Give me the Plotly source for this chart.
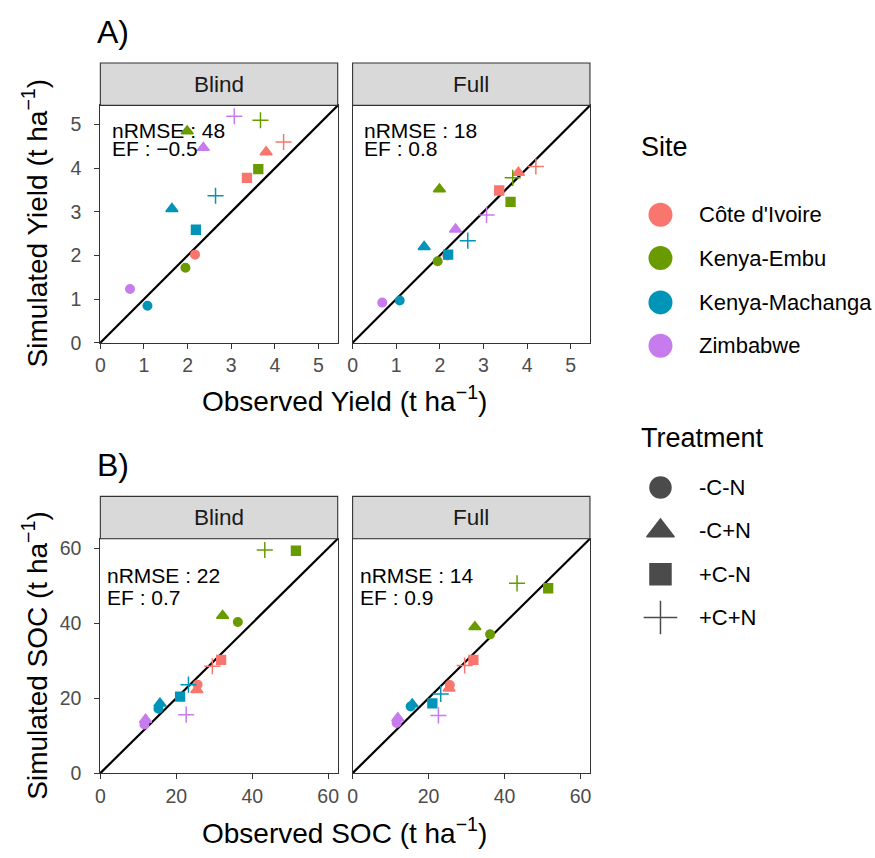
import plotly.graph_objects as go

W, H = 875, 858
FONT = "Liberation Sans, Arial, sans-serif"

# ---------------- data ----------------
sites = ["Côte d'Ivoire", "Kenya-Embu", "Kenya-Machanga", "Zimbabwe"]
treatments = ["-C-N", "-C+N", "+C-N", "+C+N"]

pt_site = (["Côte d'Ivoire"] * 4 + ["Kenya-Embu"] * 4 +
           ["Kenya-Machanga"] * 4 + ["Zimbabwe"] * 3)
pt_trt = ["-C-N", "-C+N", "+C-N", "+C+N"] * 3 + ["-C-N", "-C+N", "+C+N"]

obs_yield = [2.17, 3.80, 3.36, 4.20, 1.95, 1.99, 3.62, 3.67, 1.08, 1.64, 2.19, 2.64, 0.68, 2.36, 3.07]
sim_yield_blind = [2.02, 4.37, 3.78, 4.60, 1.72, 4.85, 3.98, 5.10, 0.85, 3.07, 2.59, 3.37, 1.23, 4.47, 5.19]
sim_yield_full = [2.00, 3.90, 3.49, 4.04, 1.87, 3.52, 3.23, 3.78, 0.97, 2.20, 2.02, 2.34, 0.92, 2.60, 2.93]

obs_soc = [25.6, 25.4, 31.8, 29.5, 36.2, 32.2, 51.5, 43.3, 15.3, 15.7, 21.0, 23.2, 11.6, 11.9, 22.6]
sim_soc_blind = [23.6, 22.2, 30.2, 28.5, 40.3, 42.0, 59.3, 59.5, 17.2, 18.6, 20.4, 23.6, 13.0, 14.3, 15.6]
sim_soc_full = [23.5, 22.6, 30.2, 28.7, 37.0, 39.0, 49.3, 50.6, 17.8, 18.4, 18.6, 21.1, 13.4, 14.7, 15.4]

yield_range = [0, 5.44]
soc_range = [0, 62.5]
yield_ticks = [0, 1, 2, 3, 4, 5]
soc_ticks = [0, 20, 40, 60]

stats = {
    "A_blind": ["nRMSE : 48", "EF : \u22120.5"],
    "A_full": ["nRMSE : 18", "EF : 0.8"],
    "B_blind": ["nRMSE : 22", "EF : 0.7"],
    "B_full": ["nRMSE : 14", "EF : 0.9"],
}
facet_labels = ["Blind", "Full"]

# ---------------- styles ----------------
site_colors = {
    "Côte d'Ivoire": "#F8766D",
    "Kenya-Embu": "#699B00",
    "Kenya-Machanga": "#0094B9",
    "Zimbabwe": "#C77CEE",
}
trt_symbol = {"-C-N": "circle", "-C+N": "triangle-up", "+C-N": "square", "+C+N": "cross-thin"}
trt_size = {"-C-N": 8.5, "-C+N": 10.5, "+C-N": 8.8, "+C+N": 11.5}
trt_legend_size = {"-C-N": 21, "-C+N": 24, "+C-N": 21, "+C+N": 24}


def px(x):
    return x / W


def py(y):
    return 1 - y / H


# panel geometry in pixels
XB = (96, 335)
XF = (350, 589)
YA = (105, 346)
YB = (545, 783)
STRIP_H = 43

fig = go.Figure()

panels = [
    ("x", "y", XB, YA, yield_range, yield_ticks, obs_yield, sim_yield_blind, "A_blind", True),
    ("x2", "y2", XF, YA, yield_range, yield_ticks, obs_yield, sim_yield_full, "A_full", False),
    ("x3", "y3", XB, YB, soc_range, soc_ticks, obs_soc, sim_soc_blind, "B_blind", True),
    ("x4", "y4", XF, YB, soc_range, soc_ticks, obs_soc, sim_soc_full, "B_full", False),
]

shapes = []
annotations = []
colors = [site_colors[s] for s in pt_site]
symbols = [trt_symbol[t] for t in pt_trt]
sizes = [trt_size[t] for t in pt_trt]

for i, (xa, ya, xd, yd, rng, tks, xs, ys, key, showy) in enumerate(panels):
    n = "" if i == 0 else str(i + 1)
    fig.add_trace(go.Scatter(
        x=xs, y=ys, mode="markers", xaxis=xa, yaxis=ya, showlegend=False,
        hoverinfo="skip", opacity=1,
        marker=dict(color=colors, symbol=symbols, size=sizes, opacity=1,
                    line=dict(color=colors, width=1.5)),
    ))
    axis_common = dict(
        showgrid=False, zeroline=False, showline=True, mirror=True,
        linecolor="#333333", linewidth=1.1, range=rng, tickvals=tks,
        ticklen=5, tickwidth=1.1, tickcolor="#333333",
        tickfont=dict(family=FONT, size=19.5, color="#4D4D4D"),
    )
    fig.update_layout({
        "xaxis" + n: dict(axis_common, domain=[px(xd[0]), px(xd[1])], anchor=ya,
                          ticks="outside", ticklabelstandoff=0),
        "yaxis" + n: dict(axis_common, domain=[py(yd[1]), py(yd[0])], anchor=xa,
                          showticklabels=showy, ticks="outside" if showy else "",
                          ticklabelstandoff=9),
    })
    # 1:1 line
    shapes.append(dict(type="line", xref=xa + " domain", yref=ya + " domain",
                       x0=0, y0=0, x1=1, y1=1, line=dict(color="black", width=2.2),
                       layer="below"))
    # strip
    shapes.append(dict(type="rect", xref="paper", yref="paper",
                       x0=px(xd[0]), x1=px(xd[1]), y0=py(yd[0]), y1=py(yd[0] - STRIP_H),
                       fillcolor="#D9D9D9", line=dict(color="#333333", width=1.1)))
    annotations.append(dict(text=facet_labels[i % 2], xref="paper", yref="paper",
                            x=px((xd[0] + xd[1]) / 2), y=py(yd[0] - STRIP_H / 2),
                            showarrow=False, xanchor="center", yanchor="middle",
                            font=dict(family=FONT, size=22.5, color="#1A1A1A")))
    # stats text
    if key.startswith("A"):
        lx = xd[0] + 9.5
        ly = [YA[0] + 25, YA[0] + 43.5]
    else:
        lx = xd[0] + 5
        ly = [YB[0] + 37, YB[0] + 60]
    for line_txt, yy in zip(stats[key], ly):
        annotations.append(dict(text=line_txt, xref="paper", yref="paper",
                                x=px(lx), y=py(yy), showarrow=False,
                                xanchor="left", yanchor="middle",
                                font=dict(family=FONT, size=21, color="black")))

# panel letters
for lab, yy in [("A)", 30), ("B)", 470)]:
    annotations.append(dict(text=lab, xref="paper", yref="paper", x=px(91), y=py(yy),
                            showarrow=False, xanchor="left", yanchor="middle",
                            font=dict(family=FONT, size=32, color="black")))

# axis titles
unit = " (t ha<sup>\u22121</sup>)"
for txt, xx, yy, ang in [
    ("Observed Yield" + unit, 342, 403, 0),
    ("Simulated Yield" + unit, 30, 225, -90),
    ("Observed SOC" + unit, 342, 842, 0),
    ("Simulated SOC" + unit, 30, 664, -90),
]:
    annotations.append(dict(text=txt, xref="paper", yref="paper", x=px(xx), y=py(yy),
                            showarrow=False, xanchor="center", yanchor="middle",
                            textangle=ang, font=dict(family=FONT, size=28, color="black")))

# ---------------- manual legend ----------------
LEG_KEY_X = 660
LEG_LAB_X = 697
site_y = [216, 260, 305, 349]
trt_y = [493, 537, 581, 625]

fig.update_layout(
    xaxis5=dict(domain=[px(600), 1], range=[600, W], visible=False, fixedrange=True, anchor="y5"),
    yaxis5=dict(domain=[py(660), py(120)], range=[660, 120], visible=False, fixedrange=True, anchor="x5"),
)
fig.add_trace(go.Scatter(
    x=[LEG_KEY_X] * len(sites), y=site_y, xaxis="x5", yaxis="y5", mode="markers",
    showlegend=False, hoverinfo="skip",
    marker=dict(symbol="circle", size=24, color=[site_colors[s] for s in sites]),
))
fig.add_trace(go.Scatter(
    x=[LEG_KEY_X] * len(treatments), y=trt_y, xaxis="x5", yaxis="y5", mode="markers",
    showlegend=False, hoverinfo="skip",
    marker=dict(symbol=[trt_symbol[t] for t in treatments],
                size=[trt_legend_size[t] for t in treatments], color="black",
                line=dict(color="black", width=1.5)),
))
annotations.append(dict(text="Site", xref="paper", yref="paper", x=px(638), y=py(147),
                        showarrow=False, xanchor="left", yanchor="middle",
                        font=dict(family=FONT, size=27, color="black")))
annotations.append(dict(text="Treatment", xref="paper", yref="paper", x=px(638), y=py(443),
                        showarrow=False, xanchor="left", yanchor="middle",
                        font=dict(family=FONT, size=27, color="black")))
for s, yy in zip(sites, site_y):
    annotations.append(dict(text=s, xref="paper", yref="paper", x=px(LEG_LAB_X), y=py(yy),
                            showarrow=False, xanchor="left", yanchor="middle",
                            font=dict(family=FONT, size=22, color="black")))
for t, yy in zip(treatments, trt_y):
    annotations.append(dict(text=t, xref="paper", yref="paper", x=px(LEG_LAB_X), y=py(yy),
                            showarrow=False, xanchor="left", yanchor="middle",
                            font=dict(family=FONT, size=22, color="black")))

fig.update_layout(
    width=W, height=H, autosize=False,
    margin=dict(l=0, r=0, t=0, b=0),
    paper_bgcolor="white", plot_bgcolor="rgba(0,0,0,0)",
    shapes=shapes, annotations=annotations,
    font=dict(family=FONT),
    showlegend=False,
)

fig.write_html("out.html")
